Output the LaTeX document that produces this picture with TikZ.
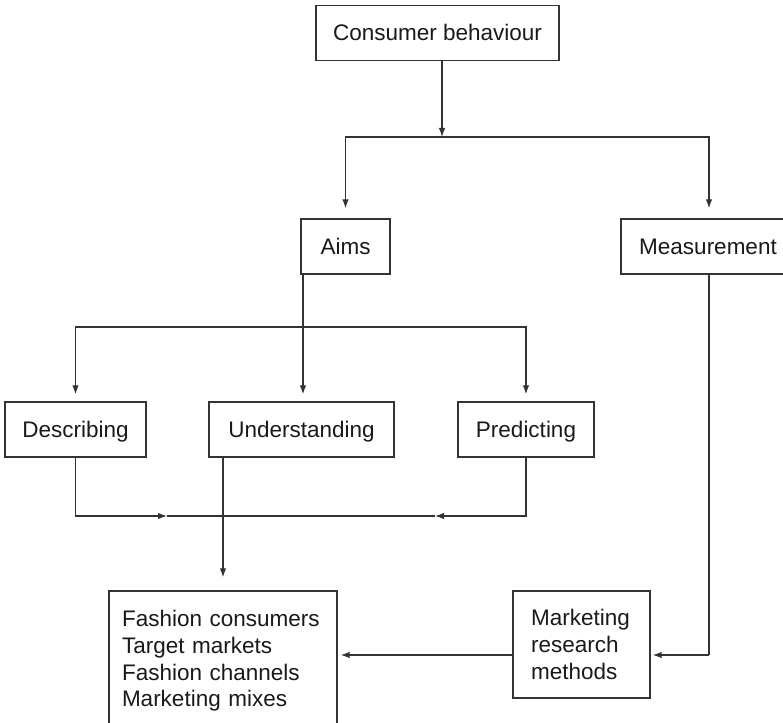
\documentclass[tikz,border=0pt]{standalone}
\usepackage{fontspec}
\setmainfont{Liberation Sans}
\usetikzlibrary{arrows,arrows.meta,calc}
\tikzset{%
        >={Latex[length=9pt,width=6.5pt]},
        every picture/.style={line width=1.2pt}
}
\tikzstyle{box}=[
    draw = black!80,
    line width = 1.4pt,
    inner sep = 0pt,
    minimum height = 55pt,
    text = black!90,
    text height = 15pt,
    text depth = 0pt
]
\tikzstyle{listbox}=[
    draw = black!80,
    line width = 1.4pt,
    align = left,
    inner ysep = 0pt,
    text = black!90
]

\begin{document}
\begin{tikzpicture}[x=1pt, y=-1pt, color=black!80,
        font=\fontsize{22.5}{26.7}\selectfont]
        \useasboundingbox (0,0) rectangle (783,722);
        \node[box, minimum width=243pt] (cb) at (437.5,33) {Consumer behaviour};
        \node[box, minimum width=89pt] (aims) at (345.5,246.5) {Aims};
        \node[box, minimum width=174pt] (meas) at (708,246.5) {Measurement};
        \node[box, minimum width=141pt] (desc) at (75.5,429.5) {Describing};
        \node[box, minimum width=185pt] (und) at (301.5,429.5) {Understanding};
        \node[box, minimum width=136pt] (pred) at (526,429.5) {Predicting};
        \node[listbox, text width=202pt, inner xsep=13pt, minimum height=140pt]
            (fash) at (223,661) {Fashion consumers\\Target markets\\Fashion channels\\Marketing mixes};
        \node[listbox, text width=101pt, inner xsep=18pt, minimum height=107pt]
            (mrm) at (581.5,644.5) {Marketing\\research\\methods};
        \coordinate (s1) at (442,137);
        \coordinate (s2) at (303,327);
        \coordinate (m1) at (167,516);
        \coordinate (m2) at (435,516);
        \coordinate (k) at (709,655);
        \draw[->] (cb.south -| s1) -- (s1);
        \draw[->, shorten >=10pt] (s1) -| (aims.north);
        \draw[->, shorten >=10pt] (s1) -| (meas.north -| k);
        \draw (aims.south -| s2) -- (s2);
        \draw[->, shorten >=7pt] (s2) -- (und.north -| s2);
        \draw[->, shorten >=7pt] (s2) -| (desc.north);
        \draw[->, shorten >=7pt] (s2) -| (pred.north);
        \draw[->] (desc.south) |- (m1);
        \draw[->] (pred.south) |- (m2);
        \draw (m1) -- (m2);
        \draw[->, shorten >=13pt] (und.south -| fash.north) -- (fash.north);
        \draw (meas.south -| k) -- (k);
        \draw[->, shorten >=2pt] (k) -- (mrm.east |- k);
        \draw[->, shorten >=3pt] (mrm.west |- k) -- (fash.east |- k);
    \end{tikzpicture}
\end{document}
